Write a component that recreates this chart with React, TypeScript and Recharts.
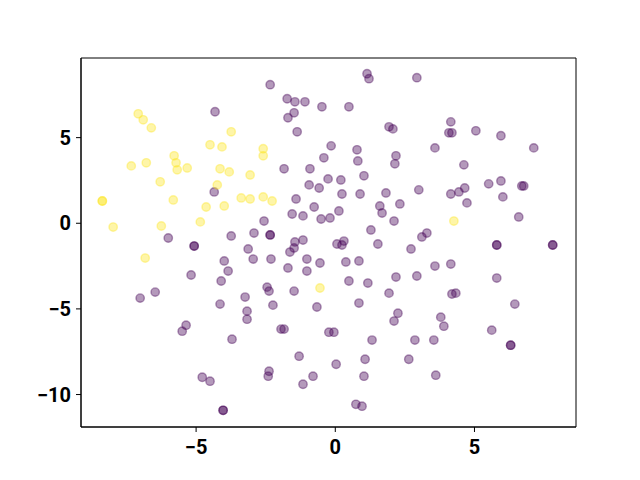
import React from "react";
import {
  ScatterChart,
  Scatter,
  XAxis,
  YAxis,
  ReferenceArea,
} from "recharts";

// class 0 (purple) points
const purpleX = [
  -4.32, -4.35, -6.0, -3.74, -5.07, -5.07, -2.34, 1.14, 1.21, 2.93, -1.73, -1.45, -1.09, -0.48, 0.49,
  -1.48, -1.7, -1.37, 1.93, 2.07, -0.15, 0.78, 0.81, 2.18, 2.14, -0.41, -1.84, -0.91, -0.26, 0.2,
  1.03, -0.94, -0.58, 0.24, 0.89, 1.82, 3.0, -1.41, 1.6, 1.68, 2.32, -1.55, -1.16, -0.76, 0.13,
  -0.51, -0.19, 2.11, -2.56, -2.92, -2.34, -2.34, 1.28, -1.45, -1.16, 0.06, 0.31, 0.24, 1.53,
  4.15, 4.08, 4.19, 5.05, 5.95, 3.58, 7.13, 4.62, 4.15, 4.44, 4.65, 4.73, 5.51, 5.95, 6.02, 6.7,
  6.77, 6.59, 3.11, 3.29, 5.8, 5.8, 7.81, 7.81, -3.99, -3.85, -5.18, -4.1, -6.47, -7.01, -4.14,
  -3.24, -3.17, -3.17, -5.36, -5.5, -3.71, -4.78, -4.5, -4.03, -4.03, -3.13, -2.95, -2.31, -1.48,
  -1.63, -1.02, -0.55, -1.7, -1.02, 2.72, 0.38, 0.85, 2.18, 2.93, 0.49, 1.17, 1.93, -2.45, -2.38,
  -1.48, -2.24, -0.66, 0.85, 2.25, 2.11, -1.95, -1.84, -0.23, -0.05, 1.32, 2.86, -1.3, 0.03, 1.07,
  2.64, -2.38, -2.41, -0.8, 1.03, -1.16, 0.74, 0.96, 3.58, 4.15, 5.8, 4.19, 4.33, 6.45, 3.79, 3.9,
  5.62, 3.54, 6.3, 6.3, 3.61,
];
const purpleY = [
  6.51, 1.83, -0.86, -0.74, -1.33, -1.33, 8.09, 8.73, 8.44, 8.5, 7.27, 7.09, 7.09, 6.8, 6.8,
  6.45, 6.16, 5.34, 5.63, 5.51, 4.52, 4.29, 3.64, 3.94, 3.47, 3.82, 3.18, 3.18, 2.59, 2.53,
  2.77, 2.24, 2.06, 1.71, 1.71, 1.77, 1.95, 1.42, 1.01, 0.6, 1.13, 0.54, 0.43, 0.95, 0.72,
  0.25, 0.31, 0.13, 0.13, -0.57, -0.68, -0.68, -0.39, -1.09, -0.98, -1.21, -1.04, -1.27, -1.21,
  5.92, 5.28, 5.28, 5.4, 5.11, 4.4, 4.4, 3.41, 1.71, 1.83, 2.06, 1.19, 2.3, 2.47, 1.54, 2.18,
  2.18, 0.37, -0.8, -0.57, -1.27, -1.27, -1.27, -1.27, -2.2, -2.79, -3.02, -3.37, -4.02, -4.37, -4.72,
  -4.31, -5.13, -5.6, -5.95, -6.3, -6.77, -8.99, -9.22, -10.92, -10.92, -1.5, -2.09, -2.09, -1.44,
  -1.68, -2.09, -2.32, -2.61, -2.79, -1.5, -2.26, -2.2, -3.14, -3.08, -3.37, -3.49, -4.08, -3.73, -3.96,
  -3.96, -4.78, -4.89, -4.66, -5.25, -5.71, -6.18, -6.18, -6.36, -6.36, -6.82, -6.82, -7.76, -8.23, -7.94,
  -7.94, -8.64, -8.93, -8.93, -8.93, -9.4, -10.57, -10.68, -2.5, -2.38, -3.2, -4.13, -4.08, -4.72, -5.48, -6.01,
  -6.24, -6.82, -7.12, -7.12, -8.87,
];

// class 1 (yellow) points
const yellowX = [
  -7.08, -6.9, -6.61, -3.74, -4.5, -4.07, -5.79, -5.72, -5.68, -7.33, -6.79, -5.32, -4.14, -3.81,
  -3.06, -6.29, -4.24, -8.37, -8.37, -5.82, -3.38, -3.06, -4.64, -3.99, -7.98, -6.25, -4.85, -2.59,
  -2.59, -2.59, -2.27, 4.26, -6.83, -0.55,
];
const yellowY = [
  6.39, 6.04, 5.57, 5.34, 4.58, 4.46, 3.94, 3.53, 3.12, 3.35, 3.53, 3.23, 3.18, 3.0,
  2.82, 2.42, 2.24, 1.3, 1.3, 1.36, 1.48, 1.42, 0.95, 1.01, -0.22, -0.16, 0.08, 4.35,
  3.94, 1.54, 1.3, 0.13, -2.03, -3.78,
];

const xTicks = [-5, 0, 5];
const yTicks = [-10, -5, 0, 5];
const xDomain: [number, number] = [-9.135, 8.647];
const yDomain: [number, number] = [-11.895, 9.649];

const purple = purpleX.map((x, i) => ({ x, y: purpleY[i] }));
const yellow = yellowX.map((x, i) => ({ x, y: yellowY[i] }));

const fmt = (v: number) => (v < 0 ? `\u2212${-v}` : `${v}`);

const tickStyle = {
  fill: "#000",
  fontSize: 20,
  fontWeight: 700,
  fontFamily: "Roboto, sans-serif",
};

function dot(color: string) {
  return (props: any) => (
    <circle
      cx={props.cx}
      cy={props.cy}
      r={4.2}
      fill={color}
      fillOpacity={0.4}
      stroke={color}
      strokeOpacity={0.4}
      strokeWidth={1.4}
    />
  );
}

export default function App() {
  return (
    <div style={{ position: "absolute", left: 0, top: 0, width: 640, height: 480, background: "#fff" }}>
      <ScatterChart width={640} height={480} margin={{ top: 58, right: 64, bottom: 0, left: 0 }}>
        <XAxis
          type="number"
          dataKey="x"
          domain={xDomain}
          allowDataOverflow
          ticks={xTicks}
          tickFormatter={fmt}
          height={53}
          tickSize={5}
          tickMargin={8}
          tick={tickStyle}
          axisLine={{ stroke: "#000" }}
          tickLine={{ stroke: "#000" }}
        />
        <YAxis
          type="number"
          dataKey="y"
          domain={yDomain}
          allowDataOverflow
          ticks={yTicks}
          tickFormatter={fmt}
          width={81}
          tickSize={5}
          tickMargin={5}
          tick={tickStyle}
          axisLine={{ stroke: "#000" }}
          tickLine={{ stroke: "#000" }}
        />
        <ReferenceArea
          x1={xDomain[0]}
          x2={xDomain[1]}
          y1={yDomain[0]}
          y2={yDomain[1]}
          fill="none"
          stroke="#000"
          strokeWidth={1}
          fillOpacity={0}
        />
        <Scatter data={purple} shape={dot("#440154")} isAnimationActive={false} />
        <Scatter data={yellow} shape={dot("#fde725")} isAnimationActive={false} />
      </ScatterChart>
    </div>
  );
}
